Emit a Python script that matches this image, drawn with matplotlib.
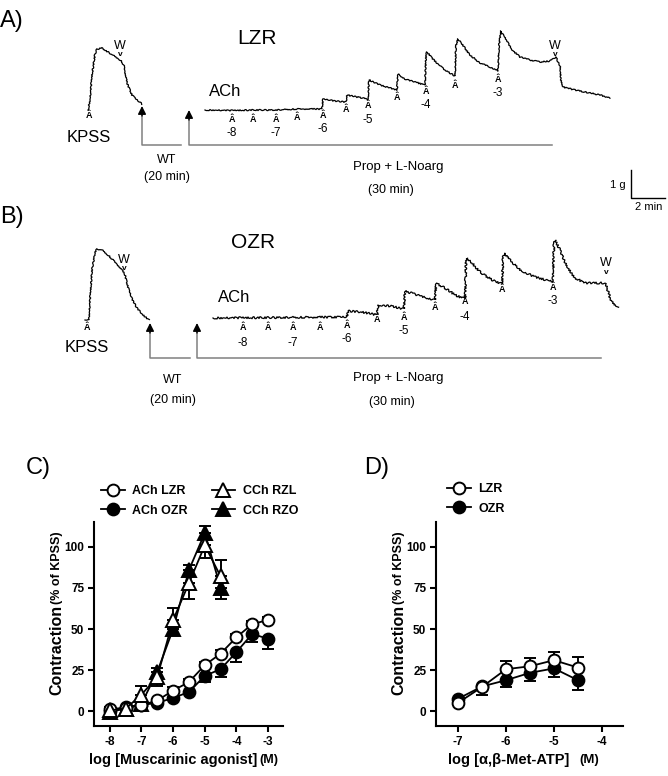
import matplotlib
matplotlib.use('Agg')
import matplotlib.pyplot as plt
import numpy as np

plt.rcParams['font.family'] = ['Liberation Sans', 'DejaVu Sans']
plt.rcParams['axes.unicode_minus'] = False

# ---- panel A / B traces (time, tension, screen units) ----
kpss_a_t = [88, 90, 92, 95, 97, 102, 108, 114, 119, 122, 124, 127, 132, 137, 142]
kpss_a_v = [110, 100, 75, 54, 49, 48, 52, 56, 59, 62, 66, 83, 95, 100, 104]
ach_a_t = [205, 232, 253, 276, 297, 322, 323, 335, 346, 347, 357, 368, 369, 380, 390, 397,
           398, 405, 415, 425, 426, 427, 432, 440, 448, 455, 456, 458, 462, 470, 480, 490,
           498, 499, 501, 505, 512, 520, 530, 540, 550, 556, 558, 560, 561, 563, 575, 590,
           600, 610]
ach_a_v = [110, 110.5, 110, 110, 109, 109, 99, 101, 102, 95, 97, 99, 80, 85, 88, 90,
           74, 79, 82, 85, 56, 52, 58, 66, 72, 76, 45, 39, 44, 55, 63, 67,
           71, 45, 31, 38, 50, 57, 60, 62, 61, 57, 62, 66, 80, 87, 90, 93,
           95, 98]
dose_a_t = [232, 253, 276, 297, 323, 346, 368, 397, 426, 455, 498]
dose_a_v = [119, 119, 119, 118, 115, 110, 106, 97, 91, 86, 79]

kpss_b_t = [85, 89, 90, 92, 95, 97, 102, 108, 116, 122, 125, 128, 132, 137, 143, 149]
kpss_b_v = [320, 319, 300, 270, 252, 249, 250, 255, 263, 270, 275, 287, 299, 308, 315, 320]
ach_b_t = [213, 347, 348, 362, 377, 378, 390, 404, 405, 420, 435, 436, 445, 455, 465, 466,
           467, 472, 480, 492, 502, 503, 504, 510, 520, 535, 553, 554, 555, 560, 566, 575,
           585, 605, 607, 610, 614, 618]
ach_b_v = [318, 317, 311, 312, 315, 305, 306, 309, 291, 296, 300, 283, 288, 295, 299, 262,
           258, 263, 272, 280, 284, 258, 253, 260, 270, 277, 282, 245, 240, 250, 265, 278,
           283, 283, 288, 298, 305, 308]
dose_b_t = [243, 268, 293, 320, 347, 377, 404, 435, 465, 502, 553]
dose_b_v = [328, 328, 328, 327, 325, 320, 317, 308, 302, 290, 287]

dose_labels = ['-8', '-7', '-6', '-5', '-4', '-3']

# ---- panel C ----
x_ach = [-8, -7.5, -7, -6.5, -6, -5.5, -5, -4.5, -4, -3.5, -3]
ach_lzr = [1.4, 1.8, 3.5, 6.5, 12.5, 17.7, 28, 35, 45, 53, 55.5]
ach_lzr_err = [1, 1, 1, 1, 2, 2, 2, 2, 2, 2, 2]
ach_ozr = [0, 2.5, 3.7, 5, 8, 11.6, 21.5, 25.5, 36, 47, 44]
ach_ozr_err = [2, 2, 1, 1, 1, 1.5, 4, 5, 6, 5, 6]

x_cch = [-8, -7.5, -7, -6.5, -6, -5.5, -5, -4.5]
cch_rzl = [0.5, 1.5, 10, 21, 55.5, 78, 101, 82]
cch_rzl_lo = [0, 0, 0, 0, 0, 10, 8, 0]
cch_rzl_hi = [1, 1, 5, 5, 7.5, 0, 0, 10]
cch_rzo = [-0.5, 1.5, 4.5, 24, 50, 86, 108.5, 75]
cch_rzo_lo = [2, 1, 1, 9, 3, 0, 0, 7]
cch_rzo_hi = [0, 0, 0, 0, 0, 3, 4.5, 0]

# ---- panel D ----
x_atp = [-7, -6.5, -6, -5.5, -5, -4.5]
atp_lzr = [5, 14.7, 25.5, 27.3, 31, 26.5]
atp_lzr_err = [1, 1, 5, 5.3, 5, 6.5]
atp_ozr = [7.5, 15, 18.8, 23.3, 26, 18.8]
atp_ozr_err = [1, 5, 4, 5, 5.5, 6]

W, H = 668, 776
fig = plt.figure(figsize=(W / 100, H / 100), dpi=100)
fig.patch.set_facecolor('white')

ax0 = fig.add_axes([0, 0, 1, 1])
ax0.set_xlim(0, W)
ax0.set_ylim(H, 0)
ax0.axis('off')

def lab(x, y, s, size, **kw):
    ax0.text(x, y, s, fontsize=size, ha='center', va='center', **kw)

def trace(t, v, wiggle=0.6):
    ln, = ax0.plot(t, v, color='black', lw=0.9)
    ln.set_sketch_params(scale=wiggle, length=2.5, randomness=3)

def bracket(x, tip, base, x_end):
    ax0.plot([x, x, x_end], [tip + 6, base, base], color='#808080', lw=1.1)
    ax0.annotate('', xy=(x, tip), xytext=(x, tip + 10),
                 arrowprops=dict(arrowstyle='-|>', color='black', lw=1,
                                 mutation_scale=12, shrinkA=0, shrinkB=0))

def mark(x, y):
    ax0.text(x, y, 'Â', fontsize=6.5, ha='center', va='center', fontweight='bold')

def doses(t, v, offset):
    for ti, vi in zip(t, v):
        mark(ti, vi)
    for i, s in enumerate(dose_labels):
        lab(t[2 * i], v[2 * i] + offset, s, 8.5)

def wmark(x, y):
    lab(x, y, 'W', 9)
    lab(x, y + 9, 'v', 6, fontweight='bold')

# panel A
lab(12, 21, 'A)', 17)
lab(257, 38, 'LZR', 15)
trace(kpss_a_t, kpss_a_v)
trace(ach_a_t, ach_a_v)
mark(89, 116)
wmark(120, 46)
wmark(555, 46)
doses(dose_a_t, dose_a_v, 14)
lab(89, 137, 'KPSS', 12)
lab(225, 92, 'ACh', 12)
bracket(142, 106, 145, 181)
bracket(189, 110, 145, 552)
lab(167, 160, 'WT', 9)
lab(167, 177, '(20 min)', 9)
lab(398, 167, 'Prop + L-Noarg', 9.5)
lab(391, 190, '(30 min)', 9)
ax0.plot([631, 631, 665], [170, 198, 198], color='black', lw=1)
ax0.text(626, 185, '1 g', fontsize=8, ha='right', va='center')
lab(649, 207, '2 min', 8)

# panel B
lab(12, 217, 'B)', 17)
lab(253, 243, 'OZR', 15)
trace(kpss_b_t, kpss_b_v)
trace(ach_b_t, ach_b_v, wiggle=1.0)
mark(87, 328)
wmark(124, 260)
wmark(606, 263)
doses(dose_b_t, dose_b_v, 14.5)
lab(87, 348, 'KPSS', 12)
lab(234, 297, 'ACh', 12)
bracket(150, 323, 358, 190)
bracket(197, 323, 358, 601)
lab(173, 380, 'WT', 9)
lab(173, 400, '(20 min)', 9)
lab(398, 378, 'Prop + L-Noarg', 9.5)
lab(392, 402, '(30 min)', 9)

# ---- dose-response axes ----
def style(ax, xlim, xticks):
    ax.set_facecolor('none')
    ax.set_xlim(*xlim)
    ax.set_ylim(-9.1, 115.2)
    ax.set_xticks(xticks)
    ax.set_yticks([0, 25, 50, 75, 100])
    for s in ('top', 'right'):
        ax.spines[s].set_visible(False)
    for s in ('left', 'bottom'):
        ax.spines[s].set_linewidth(1.5)
    ax.tick_params(direction='out', length=4, width=1.5, labelsize=8.5, pad=3)
    for t in ax.get_xticklabels() + ax.get_yticklabels():
        t.set_fontweight('bold')

def series(ax, x, y, lo, hi, marker, filled, label, ms=8.5):
    ax.errorbar(x, y, yerr=[lo, hi], fmt='none', ecolor='black', elinewidth=1.4,
                capsize=4.5, capthick=1.4, zorder=1)
    ax.plot(x, y, '-', marker=marker, color='black', lw=1.3, ms=ms, mew=1.4,
            mfc='black' if filled else 'white', label=label, zorder=3 if filled else 4)

zeros11 = [0] * len(x_ach)
axC = fig.add_axes([94 / W, 1 - 726 / H, 189 / W, 204 / H])
style(axC, (-8.5, -2.53), [-8, -7, -6, -5, -4, -3])
series(axC, x_ach, ach_lzr, zeros11, ach_lzr_err, 'o', False, 'ACh LZR')
series(axC, x_ach, ach_ozr, ach_ozr_err, zeros11, 'o', True, 'ACh OZR')
series(axC, x_cch, cch_rzl, cch_rzl_lo, cch_rzl_hi, '^', False, 'CCh RZL', ms=9.5)
series(axC, x_cch, cch_rzo, cch_rzo_lo, cch_rzo_hi, '^', True, 'CCh RZO', ms=9.5)
fig.legend(*axC.get_legend_handles_labels(), ncol=2, frameon=False,
           loc='upper left', bbox_to_anchor=(101, 485), bbox_transform=ax0.transData,
           prop=dict(weight='bold', size=9), handlelength=1.9, handletextpad=0.6,
           columnspacing=1.9, labelspacing=0.6, borderpad=0, borderaxespad=0)

zeros6 = [0] * len(x_atp)
axD = fig.add_axes([436 / W, 1 - 726 / H, 187 / W, 204 / H])
style(axD, (-7.46, -3.56), [-7, -6, -5, -4])
series(axD, x_atp, atp_lzr, zeros6, atp_lzr_err, 'o', False, 'LZR')
series(axD, x_atp, atp_ozr, atp_ozr_err, zeros6, 'o', True, 'OZR')
fig.legend(*axD.get_legend_handles_labels(), frameon=False,
           loc='upper left', bbox_to_anchor=(447, 483), bbox_transform=ax0.transData,
           prop=dict(weight='bold', size=9), handlelength=1.9, handletextpad=0.6,
           labelspacing=0.6, borderpad=0, borderaxespad=0)

# panel letters and axis labels
lab(38, 468, 'C)', 17)
lab(377, 468, 'D)', 17)
for dx in (0, 342):
    lab(57 + dx, 650, 'Contraction', 11.5, rotation=90, fontweight='bold')
    lab(57 + dx, 568, '(% of KPSS)', 9, rotation=90, fontweight='bold')
lab(173, 760, 'log [Muscarinic agonist]', 10.5, fontweight='bold')
lab(269, 760, '(M)', 9, fontweight='bold')
lab(509, 760, 'log [α,β-Met-ATP]', 10.5, fontweight='bold')
lab(589, 760, '(M)', 9.5, fontweight='bold')

fig.savefig('out.png', dpi=100, facecolor='white')
